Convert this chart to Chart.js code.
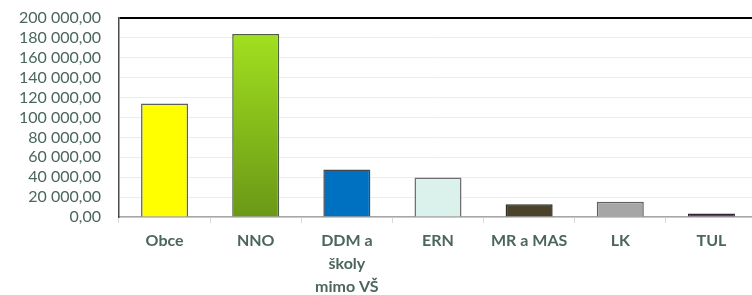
<!DOCTYPE html>
<html>
<head>
  <meta charset="utf-8">
  <title>Příspěvky podle typu příjemce</title>
  <script src="https://cdn.jsdelivr.net/npm/chart.js"></script>
  <style>
    html, body { margin: 0; padding: 0; background: #fff; overflow: hidden; }
    #wrap { width: 760px; height: 295px; }
  </style>
</head>
<body>
  <div id="wrap"><canvas id="chart"></canvas></div>
  <script>
    // Data
    const categories = ['Obce', 'NNO', ['DDM a', 'školy', 'mimo VŠ'], 'ERN', 'MR a MAS', 'LK', 'TUL'];
    const values = [114000, 184000, 47700, 39700, 12700, 15400, 3600];
    const barColors = ['#FFFF00', 'NNO_GRADIENT', '#0070C0', '#DAF2EB', '#4A422A', '#A6A6A6', '#7030A0'];
    const borderColors = ['#5F5F5F', '#4F5F45', '#404850', '#6F6F6F', '#2A2A2A', '#606060', '#2A2A2A'];
    const yMin = 0;
    const yMax = 200000;
    const yStep = 20000;

    const textColor = '#4B665B';

    function formatCz(v) {
      const parts = v.toFixed(2).split('.');
      const intPart = parts[0].replace(/\B(?=(\d{3})+(?!\d))/g, ' ');
      return intPart + ',' + parts[1];
    }

    const ctx = document.getElementById('chart').getContext('2d');
    new Chart(ctx, {
      type: 'bar',
      data: {
        labels: categories,
        datasets: [{
          data: values,
          backgroundColor: (c) => {
            const col = barColors[c.dataIndex];
            if (col !== 'NNO_GRADIENT') return col;
            const area = c.chart.chartArea;
            if (!area) return '#8CC21B';
            const g = c.chart.ctx.createLinearGradient(0, area.top, 0, area.bottom);
            g.addColorStop(0, '#A6E620');
            g.addColorStop(1, '#6A9816');
            return g;
          },
          borderColor: borderColors,
          borderWidth: 1.5,
          categoryPercentage: 1,
          barPercentage: 0.516
        }]
      },
      options: {
        responsive: true,
        maintainAspectRatio: false,
        animation: false,
        layout: { padding: { top: 18, right: 3, bottom: 0, left: 0 } },
        plugins: {
          legend: { display: false },
          tooltip: { enabled: false }
        },
        scales: {
          x: {
            afterFit: (s) => { s.height = 78; },
            grid: {
              drawOnChartArea: false,
              drawTicks: true,
              tickLength: 6,
              color: '#D9D9D9'
            },
            border: { color: '#A6A6A6', width: 1.5 },
            ticks: {
              color: textColor,
              padding: 6,
              maxRotation: 0,
              autoSkip: false,
              font: { family: 'Lato', size: 16, weight: 'bold', lineHeight: 1.44 }
            }
          },
          y: {
            min: yMin,
            max: yMax,
            afterFit: (s) => {
              s.width = 119;
              s.paddingTop = 0;
              s.paddingBottom = 0;
            },
            grid: {
              drawTicks: false,
              color: (c) => c.tick && c.tick.value === yMax ? '#000000' : '#EBEEED',
              lineWidth: (c) => c.tick && c.tick.value === yMax ? 2 : 1
            },
            border: { color: '#4A4A4A', width: 1.5 },
            ticks: {
              stepSize: yStep,
              autoSkip: false,
              color: textColor,
              padding: 18,
              font: { family: 'Lato', size: 16 },
              callback: (v) => formatCz(v)
            }
          }
        }
      }
    });
  </script>
</body>
</html>
